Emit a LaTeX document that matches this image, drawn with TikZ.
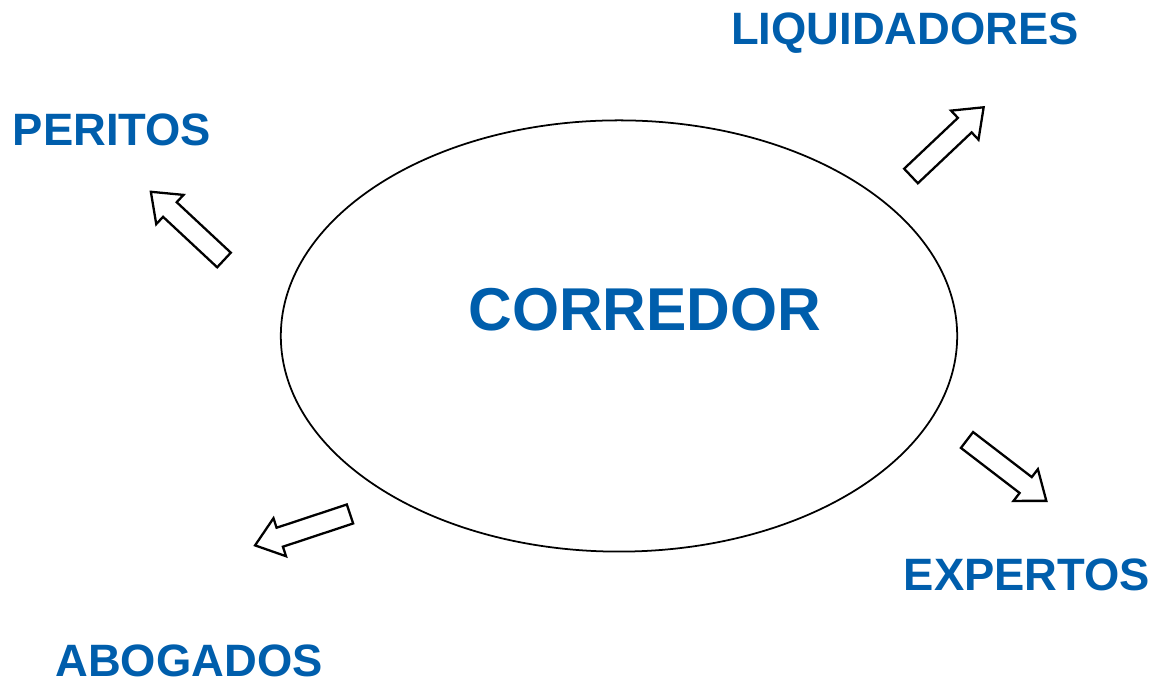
\documentclass[tikz,border=0pt]{standalone}
\usepackage{fontspec}
\setmainfont{Liberation Sans}
\usetikzlibrary{shapes.geometric,positioning}

\definecolor{tagblue}{RGB}{0,94,172}

\begin{document}
\begin{tikzpicture}[
  x=0.01cm, y=-0.01cm,
  tag/.style={text=tagblue, font=\fontsize{12.9}{15}\selectfont\bfseries, inner sep=0pt, anchor=base},
  hub/.style={draw, ellipse, line width=0.5pt, minimum width=6.76cm, minimum height=4.31cm, inner sep=0pt},
  blockarrow/.pic={
    \draw[line width=0.65pt, line join=miter, fill=white]
      (0,-10) -- (74,-10) -- (74,-20) -- (100,0) -- (74,20) -- (74,10) -- (0,10) -- cycle;
  }
]
\useasboundingbox (0,0) rectangle (1154,683);

\node[hub] (corredor) at (619,336) {};
\node[text=tagblue, font=\fontsize{17.2}{20}\selectfont\bfseries, inner sep=0pt, anchor=base] (corrlbl) at (645,331) {CORREDOR};

\node[tag] (peritos) at (112,146) {PERITOS};
\node[tag] (liquid) at (905,45) {LIQUIDADORES};
\node[tag] (expertos) at (1027,591) {EXPERTOS};
\node[tag] (abogados) at (189,677) {ABOGADOS};

% block arrows pointing out to each label
\pic[rotate=43.4] (liqarrow) at (911,176) {blockarrow};
\pic[rotate=137] (perarrow) at (224,260) {blockarrow};
\pic[rotate=198.3] (aboarrow) at (350,514) {blockarrow};
\pic[rotate=-37.5] (exparrow) at (967,440) {blockarrow};
\end{tikzpicture}
\end{document}
